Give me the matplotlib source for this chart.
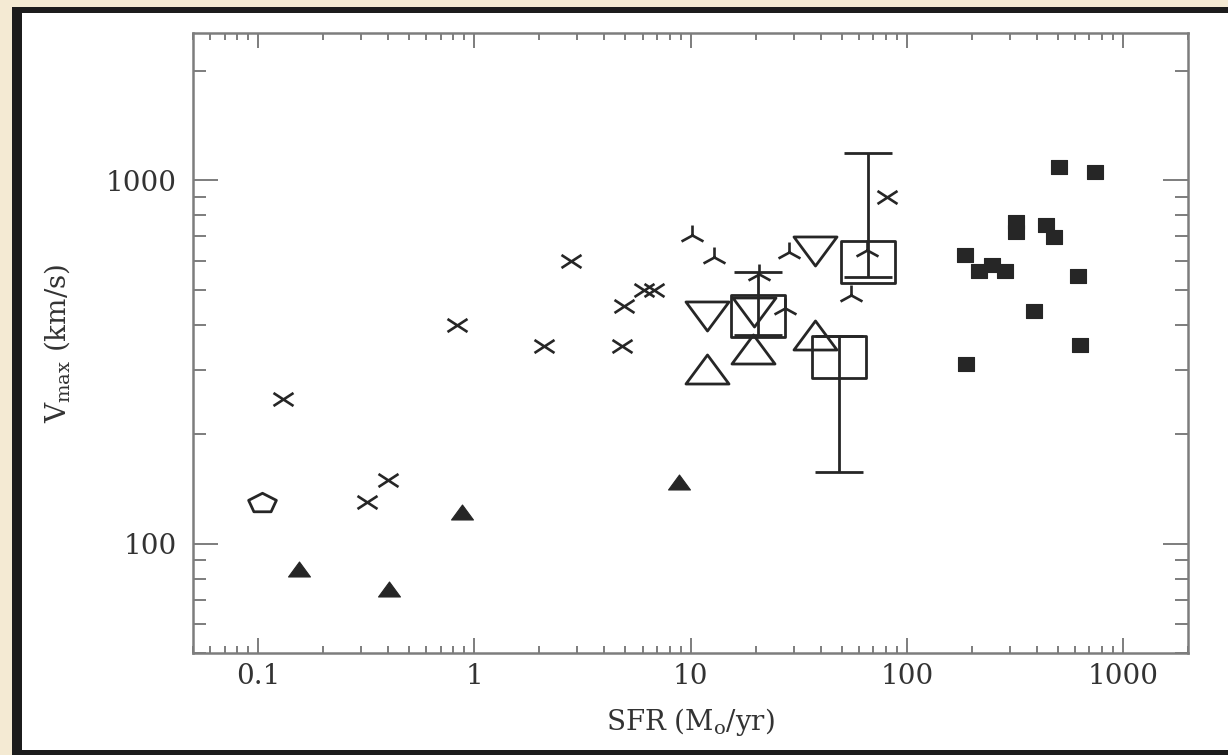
import numpy as np
import matplotlib
matplotlib.use("Agg")
import matplotlib.pyplot as plt
from matplotlib.path import Path
from matplotlib.patches import Rectangle
from matplotlib.ticker import LogLocator, NullFormatter

plt.rcParams['font.family'] = ['DejaVu Serif']
plt.rcParams['mathtext.fontset'] = 'dejavuserif'

# ---- data: SFR (Msun/yr) vs Vmax (km/s) ----
cross_sfr = [0.13, 0.32, 0.40, 0.83, 2.1, 2.8, 4.8, 4.9, 6.1, 6.8, 81]
cross_v = [250, 130, 150, 400, 350, 600, 350, 450, 500, 500, 900]

tri_sfr = [10.2, 12.8, 20.7, 27.5, 28.5, 65.6, 55]
tri_v = [705, 615, 553, 444, 634, 641, 482]

dtri_sfr = [11.9, 19.7, 37.6]
dtri_v = [423, 434, 637]

utri_sfr = [11.9, 19.4, 37.6]
utri_v = [303, 344, 374]

sq_sfr = [20.5, 65.9, 48.5]
sq_v = [424, 594, 326]
sq_vlo = [374, 541, 157]
sq_vhi = [559, 1185, 372]

ftri_sfr = [0.155, 0.405, 0.88, 8.85]
ftri_v = [85, 75, 122, 148]

pent_sfr = [0.104]
pent_v = [129]

fsq_sfr = [504, 746, 319, 319, 443, 478, 187, 215, 247, 286, 623, 386, 636, 189]
fsq_v = [1086, 1052, 765, 720, 751, 697, 621, 561, 583, 561, 544, 436, 351, 311]

xticks = [0.1, 1, 10, 100, 1000]
xticklabels = ['0.1', '1', '10', '100', '1000']
yticks = [100, 1000]
yticklabels = ['100', '1000']


# ---- marker shapes (a bit wider than tall) ----
def poly(pts):
    verts = list(pts) + [pts[0]]
    codes = [Path.MOVETO] + [Path.LINETO] * (len(pts) - 1) + [Path.CLOSEPOLY]
    return Path(verts, codes)


def segs(pairs):
    verts, codes = [], []
    for a, b in pairs:
        verts += [a, b]
        codes += [Path.MOVETO, Path.LINETO]
    return Path(verts, codes)


def rect(w, h):
    return poly([(-w, -h), (w, -h), (w, h), (-w, h)])


def tri(w, h, up=True):
    s = 1 if up else -1
    return poly([(-w, -s * h), (w, -s * h), (0, s * h)])


ang = np.deg2rad(90 + 72 * np.arange(5))
pent_path = poly(list(zip(14.2 * np.cos(ang), 9.95 * np.sin(ang))))
cross_path = segs([((-10, -6.5), (10, 6.5)), ((-10, 6.5), (10, -6.5))])
tripod_path = segs([((0, 0), (0, 10)), ((0, 0), (-11, -6)), ((0, 0), (11, -6))])

ink = '#262626'
axcol = '#7d7d7d'

fig = plt.figure(figsize=(12.28, 7.55), dpi=100)
fig.patch.set_facecolor('#f4ead3')
fig.add_artist(Rectangle((12 / 1228, 0), 1, 748 / 755, transform=fig.transFigure,
                         facecolor='#1c1c1c', edgecolor='none', zorder=-3))
fig.add_artist(Rectangle((22 / 1228, 5 / 755), 1, 737 / 755, transform=fig.transFigure,
                         facecolor='white', edgecolor='none', zorder=-2))

ax = fig.add_axes([193 / 1228, 1 - 653 / 755, 995 / 1228, 620 / 755])
ax.set_xscale('log')
ax.set_yscale('log')
ax.set_xlim(0.05, 2000)
ax.set_ylim(50, 2540)

ax.plot(cross_sfr, cross_v, ls='none', marker=cross_path, ms=14.4, mec=ink, mfc='none', mew=1.9)
ax.plot(tri_sfr, tri_v, ls='none', marker=tripod_path, ms=15.8, mec=ink, mfc='none', mew=1.9)
ax.plot(dtri_sfr, dtri_v, ls='none', marker=tri(21.5, 14.5, up=False), ms=31, mec=ink, mfc='none', mew=2.0)
ax.plot(utri_sfr, utri_v, ls='none', marker=tri(21.5, 14.5), ms=31, mec=ink, mfc='none', mew=2.0)

sq_v_arr = np.array(sq_v)
yerr = [sq_v_arr - np.array(sq_vlo), np.array(sq_vhi) - sq_v_arr]
ax.errorbar(sq_sfr, sq_v, yerr=yerr, fmt='none', ecolor=ink, elinewidth=2.0, capsize=17, capthick=2.0)
ax.plot(sq_sfr, sq_v, ls='none', marker=rect(26.5, 20.5), ms=38.2, mec=ink, mfc='none', mew=2.0)

ax.plot(ftri_sfr, ftri_v, ls='none', marker=tri(11, 7.5), ms=15.8, mec=ink, mfc=ink, mew=0.8)
ax.plot(pent_sfr, pent_v, ls='none', marker=pent_path, ms=20, mec=ink, mfc='none', mew=2.0)
ax.plot(fsq_sfr, fsq_v, ls='none', marker=rect(8.5, 7.5), ms=12.2, mec=ink, mfc=ink, mew=0.8)

# axes, ticks, labels
for sp in ax.spines.values():
    sp.set_color(axcol)
    sp.set_linewidth(1.8)

ax.set_xticks(xticks, labels=xticklabels)
ax.set_yticks(yticks, labels=yticklabels)
ax.xaxis.set_minor_locator(LogLocator(base=10, subs=np.arange(2, 10)))
ax.yaxis.set_minor_locator(LogLocator(base=10, subs=np.arange(2, 10)))
ax.xaxis.set_minor_formatter(NullFormatter())
ax.yaxis.set_minor_formatter(NullFormatter())

ax.tick_params(which='both', direction='in', top=True, right=True, color=axcol,
               width=1.4, labelsize=20, labelcolor='#333333')
ax.tick_params(axis='x', which='major', length=10.8, pad=7)
ax.tick_params(axis='x', which='minor', length=5)
ax.tick_params(axis='y', which='major', length=18, pad=12)
ax.tick_params(axis='y', which='minor', length=9.4)

ax.set_xlabel('SFR (M$_{\\rm o}$/yr)', fontsize=20, color='#333333', va='center')
ax.xaxis.set_label_coords(0.5, (653 - 722) / 620)
ax.set_ylabel('V$_{\\rm max}$ (km/s)', fontsize=20, color='#333333', va='center')
ax.yaxis.set_label_coords((57 - 193) / 995, 0.5)

fig.savefig('out.png', dpi=100, facecolor=fig.get_facecolor())
